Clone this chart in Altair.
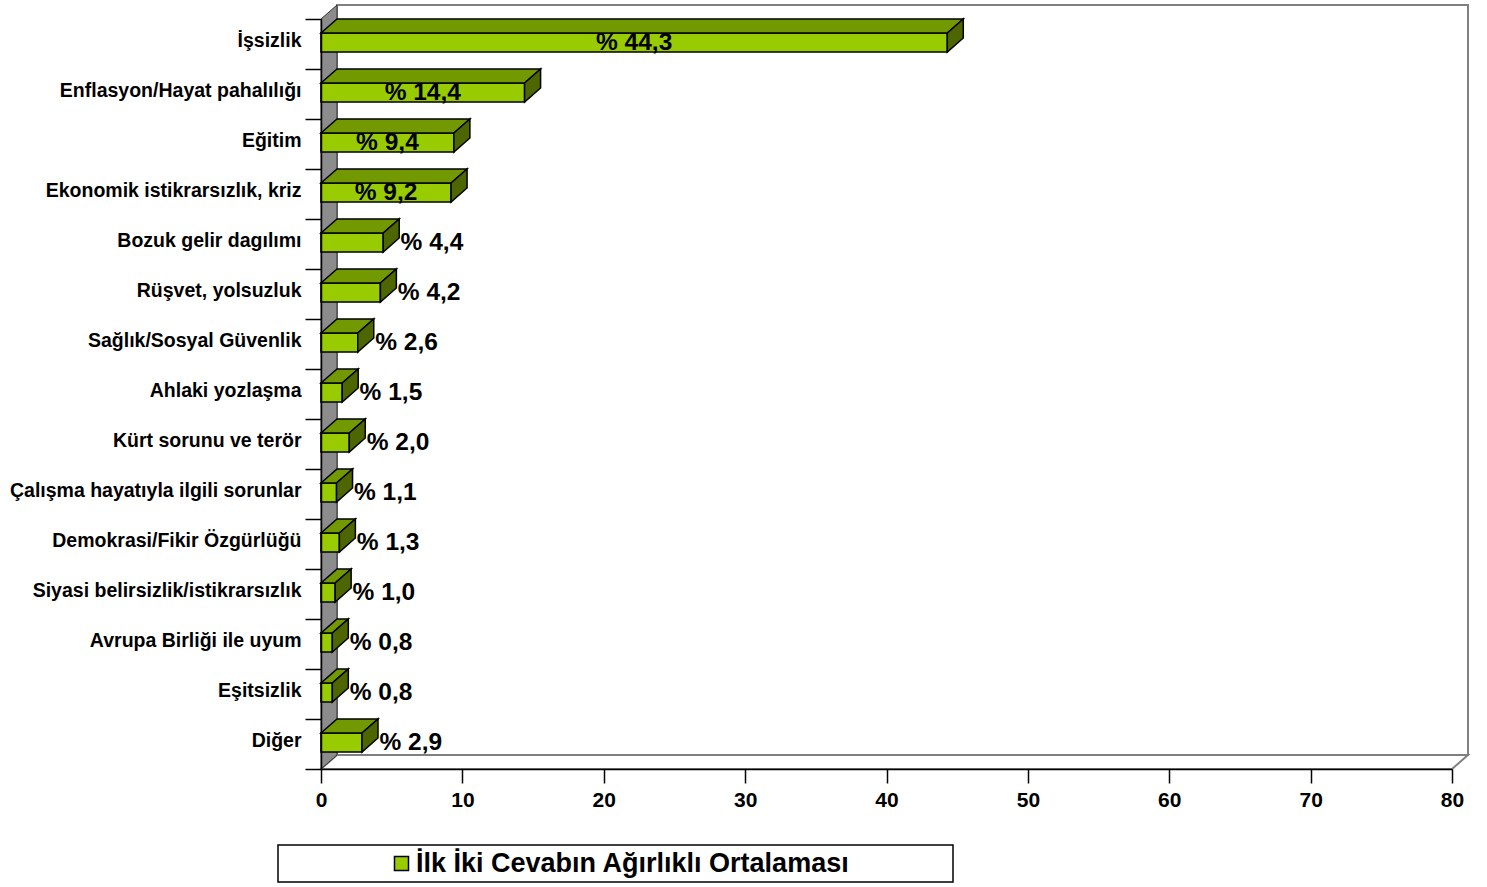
import altair as alt
import pandas as pd

# Survey answers: most important problem (weighted mean of first two answers, %)
categories = [
    "İşsizlik",
    "Enflasyon/Hayat pahalılığı",
    "Eğitim",
    "Ekonomik istikrarsızlık, kriz",
    "Bozuk gelir dagılımı",
    "Rüşvet, yolsuzluk",
    "Sağlık/Sosyal Güvenlik",
    "Ahlaki yozlaşma",
    "Kürt sorunu ve terör",
    "Çalışma hayatıyla ilgili sorunlar",
    "Demokrasi/Fikir Özgürlüğü",
    "Siyasi belirsizlik/istikrarsızlık",
    "Avrupa Birliği ile uyum",
    "Eşitsizlik",
    "Diğer",
]
values = [44.3, 14.4, 9.4, 9.2, 4.4, 4.2, 2.6, 1.5, 2.0, 1.1, 1.3, 1.0, 0.8, 0.8, 2.9]
series_name = "İlk İki Cevabın Ağırlıklı Ortalaması"
x_ticks = [0, 10, 20, 30, 40, 50, 60, 70, 80]

# ---- layout / styling constants ----
W, H = 1131, 750
X_MAX = 80
N = len(categories)
DX = 16 / (W / X_MAX)          # 3-D depth, in x units
DY = 14 / (H / N)              # 3-D depth, in row units
FRONT_TOP = DY
FRONT_BOTTOM = 0.66
FONT = "Liberation Sans"
FRONT_C, TOP_C, SIDE_C = "#99CC00", "#739900", "#4D6600"

xs = alt.Scale(domain=[0, X_MAX], nice=False, zero=False)
ys = alt.Scale(domain=[0, N], reverse=True, nice=False, zero=False)

label_expr = "[" + ",".join(f"'{c}'" for c in categories) + "][datum.value] || ''"

# the same axis definitions are used by every layer so they merge cleanly
AX = alt.Axis(
    values=x_ticks, grid=False, domainColor="black", domainWidth=1.5,
    tickColor="black", tickWidth=1.5, tickSize=14, labelFlush=False,
    labelFont=FONT, labelFontWeight="bold", labelFontSize=21, labelColor="black",
    labelPadding=6, zindex=1, title=None,
)
AY = alt.Axis(
    values=list(range(N + 1)), grid=False, domainColor="black", domainWidth=1.5,
    tickColor="black", tickWidth=1.5, tickSize=16,
    labelExpr=label_expr, labelOffset=21, labelBaseline="middle", labelLimit=400,
    labelFont=FONT, labelFontWeight="bold", labelFontSize=19.5, labelColor="black",
    labelPadding=4, zindex=1, title=None,
)


def X(field):
    return alt.X(field, type="quantitative", scale=xs, axis=AX, title=None)


def Y(field):
    return alt.Y(field, type="quantitative", scale=ys, axis=AY, title=None)


def parallelogram(pid, x0, x1, ytop0, shift_x, shift_y):
    """Envelope points of the face spanned by [x0,x1] at row-y ytop0 shifted by depth."""
    pts = sorted({x0, x0 + shift_x, x1, x1 + shift_x})
    out = []
    for x in pts:
        upper = ytop0 - shift_y * min(max(x - x0, 0), shift_x) / shift_x
        lower = ytop0 - shift_y * max(0, x - x1) / shift_x
        out.append({"id": pid, "x": x, "y": upper, "y2": lower})
    return out


# ---- chart frame: back wall, floor, side wall ----
back = pd.DataFrame([{"x": DX, "x2": X_MAX + DX, "y": -DY, "y2": N - DY}])
floor = pd.DataFrame(parallelogram(0, 0, X_MAX, N, DX, DY))
wall = pd.DataFrame([
    {"id": 0, "x": 0, "y": 0, "y2": N},
    {"id": 0, "x": DX, "y": -DY, "y2": N - DY},
])

back_layer = alt.Chart(back).mark_rect(fill="white", stroke="#808080", strokeWidth=2).encode(
    x=X("x"), x2="x2", y=Y("y"), y2="y2"
)
floor_layer = alt.Chart(floor).mark_area(fill="white", stroke="#808080", strokeWidth=2, orient="vertical").encode(
    x=X("x"), y=Y("y"), y2="y2", detail="id:N"
)
wall_layer = alt.Chart(wall).mark_area(fill="#8C8C8C", stroke="#333333", strokeWidth=1, orient="vertical").encode(
    x=X("x"), y=Y("y"), y2="y2", detail="id:N"
)

# ---- bars ----
front = pd.DataFrame({"row": range(N), "category": categories, "value": values})
front["x0"] = 0.0
front["yt"] = front["row"] + FRONT_TOP
front["yb"] = front["row"] + FRONT_BOTTOM
front["series"] = series_name

tops, sides = [], []
for i, v in enumerate(values):
    tops += parallelogram(i, 0.0, v, i + FRONT_TOP, DX, DY)
    sides += [
        {"id": i, "x": v, "y": i + FRONT_TOP, "y2": i + FRONT_BOTTOM},
        {"id": i, "x": v + DX, "y": i + FRONT_TOP - DY, "y2": i + FRONT_BOTTOM - DY},
    ]
tops = pd.DataFrame(tops)
sides = pd.DataFrame(sides)

top_layer = alt.Chart(tops).mark_area(fill=TOP_C, stroke="black", strokeWidth=1.5, orient="vertical").encode(
    x=X("x"), y=Y("y"), y2="y2", detail="id:N"
)
side_layer = alt.Chart(sides).mark_area(fill=SIDE_C, stroke="black", strokeWidth=1.5, orient="vertical").encode(
    x=X("x"), y=Y("y"), y2="y2", detail="id:N"
)

front_layer = alt.Chart(front).mark_rect(stroke="black", strokeWidth=1.5).encode(
    x=X("x0"),
    x2="value",
    y=Y("yt"),
    y2="yb",
    fill=alt.Fill(
        "series:N",
        scale=alt.Scale(domain=[series_name], range=[FRONT_C]),
        legend=alt.Legend(
            title=None, orient="none", legendX=67, legendY=831, padding=0,
            symbolType="square", symbolSize=196, symbolStrokeColor="black",
            symbolStrokeWidth=1.5, labelFont=FONT, labelFontWeight="bold",
            labelFontSize=27, labelColor="black", labelLimit=1000, labelOffset=1,
        ),
    ),
)

# ---- value labels ----
lab = front[["row", "value"]].copy()
lab["text"] = [("% " + f"{v:.1f}").replace(".", ",") for v in values]
lab["inside"] = lab["value"] > 8
lab["lx"] = [v / 2 if v > 8 else v + DX + 0.1 for v in values]
lab["ly"] = lab["row"] + (FRONT_TOP + FRONT_BOTTOM) / 2

text_inside = alt.Chart(lab).transform_filter("datum.inside").mark_text(
    font=FONT, fontWeight="bold", fontSize=24.5, color="black", align="center", baseline="middle"
).encode(x=X("lx"), y=Y("ly"), text="text:N")
text_outside = alt.Chart(lab).transform_filter("!datum.inside").mark_text(
    font=FONT, fontWeight="bold", fontSize=24.5, color="black", align="left", baseline="middle"
).encode(x=X("lx"), y=Y("ly"), text="text:N")

# ---- legend frame ----
frame = alt.Chart(pd.DataFrame({"k": [0]})).mark_rect(fill="white", stroke="black", strokeWidth=1.5).encode(
    x=alt.value(-43), x2=alt.value(632), y=alt.value(826), y2=alt.value(863)
)

chart = alt.layer(
    back_layer, floor_layer, wall_layer, frame,
    front_layer, top_layer, side_layer,
    text_inside, text_outside,
).properties(
    width=W, height=H,
    autosize=alt.AutoSizeParams(type="none"),
    padding={"left": 321, "top": 19, "right": 35, "bottom": 118},
).configure_view(stroke=None).configure(background="white")

chart.save("out.html", embed_options={"renderer": "svg", "actions": False})
